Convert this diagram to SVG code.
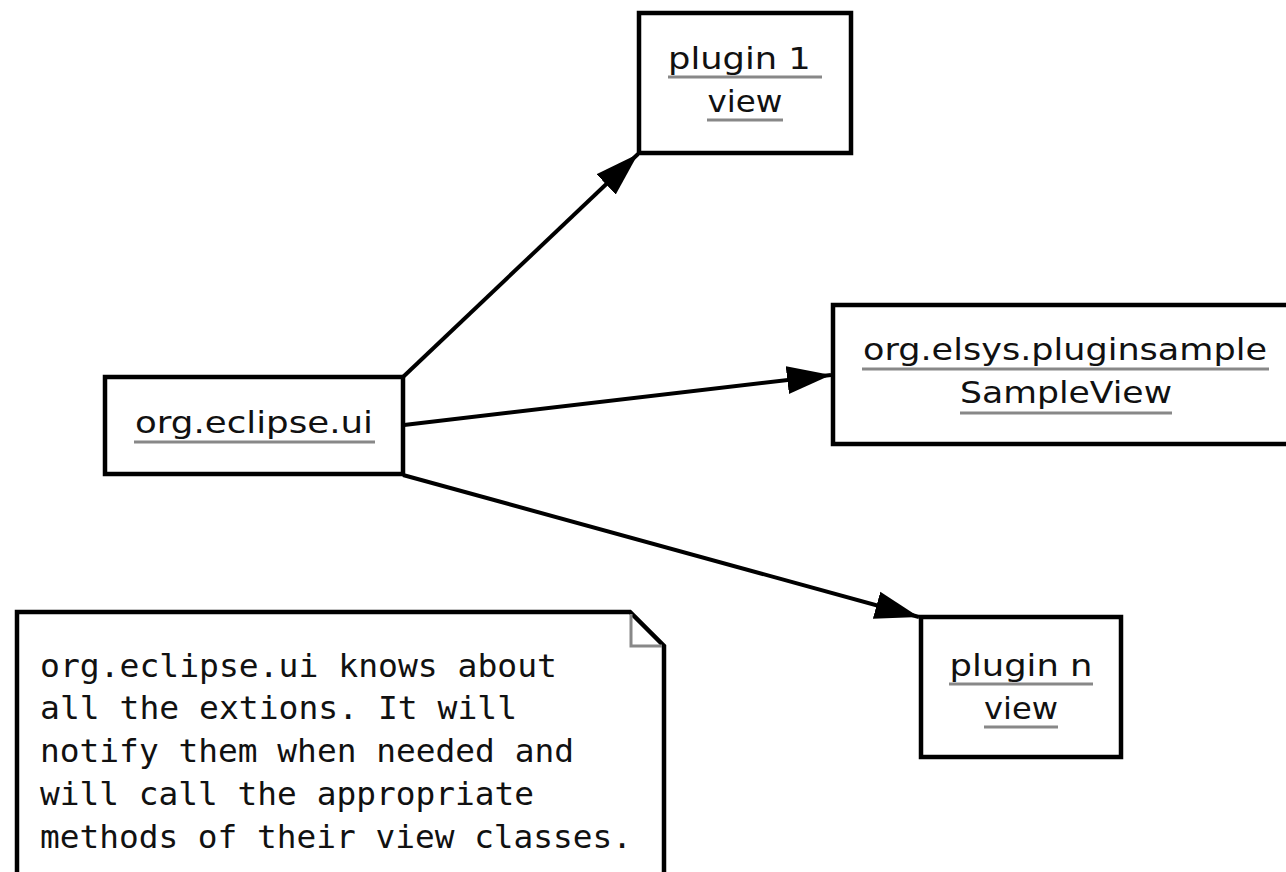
<svg xmlns="http://www.w3.org/2000/svg" width="1286" height="872" viewBox="0 0 1286 872">
<defs>
<style>
.box{fill:#fff;stroke:#000;stroke-width:4.5}
.lbl{font-family:"DejaVu Sans",sans-serif;font-size:31px;fill:#111;text-anchor:middle}
.ul{stroke:#888;stroke-width:3}
.mono{font-family:"DejaVu Sans Mono",monospace;font-size:32px;fill:#111}
.edge{stroke:#000;stroke-width:4;fill:none}
</style>
<marker id="arr" markerUnits="userSpaceOnUse" markerWidth="50" markerHeight="34" refX="44" refY="15" orient="auto" viewBox="0 0 50 34">
<path d="M44,15 L0,1 L0,29 z" fill="#000"/>
</marker>
</defs>
<rect width="1286" height="872" fill="#fff"/>
<g id="connectors">
<line class="edge" x1="403" y1="377" x2="638" y2="154" marker-end="url(#arr)"/>
<line class="edge" x1="404" y1="425" x2="831" y2="375" marker-end="url(#arr)"/>
<line class="edge" x1="403" y1="475" x2="919" y2="617" marker-end="url(#arr)"/>
</g>
<g id="plugin1">
<rect class="box" x="639" y="13" width="212" height="140"/>
<text class="lbl" x="745" y="69" xml:space="preserve" textLength="154" lengthAdjust="spacingAndGlyphs">plugin 1 </text>
<line class="ul" x1="668" y1="77" x2="822" y2="77"/>
<text class="lbl" x="745" y="112" textLength="75" lengthAdjust="spacingAndGlyphs">view</text>
<line class="ul" x1="707" y1="120" x2="783" y2="120"/>
</g>
<g id="samplview">
<rect class="box" x="833" y="305" width="470" height="139"/>
<text class="lbl" x="1065" y="360" textLength="404" lengthAdjust="spacingAndGlyphs">org.elsys.pluginsample</text>
<line class="ul" x1="862" y1="369" x2="1269" y2="369"/>
<text class="lbl" x="1066" y="403" textLength="212" lengthAdjust="spacingAndGlyphs">SampleView</text>
<line class="ul" x1="960" y1="413" x2="1172" y2="413"/>
</g>
<g id="eclipseui">
<rect class="box" x="105" y="377" width="298" height="97"/>
<text class="lbl" x="254" y="433" textLength="238" lengthAdjust="spacingAndGlyphs">org.eclipse.ui</text>
<line class="ul" x1="134" y1="442" x2="375" y2="442"/>
</g>
<g id="pluginn">
<rect class="box" x="921" y="617" width="200" height="140"/>
<text class="lbl" x="1021" y="676" textLength="143" lengthAdjust="spacingAndGlyphs">plugin n</text>
<line class="ul" x1="949" y1="684" x2="1093" y2="684"/>
<text class="lbl" x="1021" y="719" textLength="74" lengthAdjust="spacingAndGlyphs">view</text>
<line class="ul" x1="984" y1="727" x2="1058" y2="727"/>
</g>
<g id="note">
<path d="M17,880 L17,612 L630,612 L664,646 L664,880" fill="#fff" stroke="#000" stroke-width="4.5"/>
<path d="M631,614 L631,646 L662,646" fill="none" stroke="#888" stroke-width="3"/>
<text class="mono" x="40" y="677" textLength="517" lengthAdjust="spacingAndGlyphs">org.eclipse.ui knows about</text>
<text class="mono" x="40" y="719" textLength="477" lengthAdjust="spacingAndGlyphs">all the extions. It will</text>
<text class="mono" x="40" y="762" textLength="534" lengthAdjust="spacingAndGlyphs">notify them when needed and</text>
<text class="mono" x="40" y="805" textLength="494" lengthAdjust="spacingAndGlyphs">will call the appropriate</text>
<text class="mono" x="40" y="848" textLength="592" lengthAdjust="spacingAndGlyphs">methods of their view classes.</text>
</g>
</svg>
